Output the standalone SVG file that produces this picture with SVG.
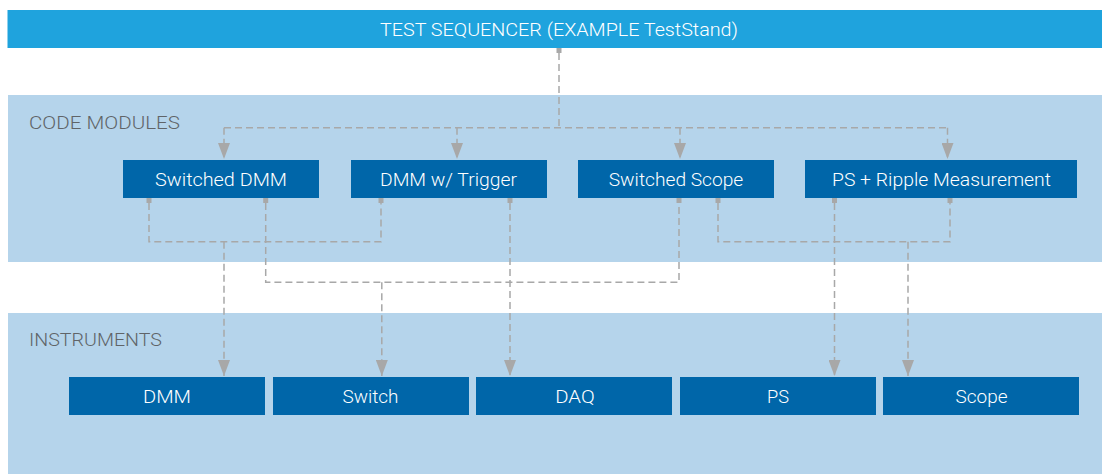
<svg xmlns="http://www.w3.org/2000/svg" width="1102" height="474" viewBox="0 0 1102 474">
<defs>
<style>
.panel{fill:#b5d4eb}
.box{fill:#0066a9}
.lbl{font-family:Roboto,"Liberation Sans",Arial,sans-serif;font-weight:300;font-size:18px;fill:#ffffff;text-anchor:middle}
.sec{font-family:Roboto,"Liberation Sans",Arial,sans-serif;font-weight:300;font-size:18px;fill:#606468}
.dash{fill:none;stroke:#a8a8a8;stroke-width:1.5;stroke-dasharray:7 4}
.pt{fill:#a8a8a8}
</style>
<marker id="arr" viewBox="0 0 16 12" refX="16" refY="6" markerWidth="16" markerHeight="12" markerUnits="userSpaceOnUse" orient="auto">
<path d="M0,0 L16,6 L0,12 z" fill="#a8a8a8"/>
</marker>
</defs>
<rect width="1102" height="474" fill="#ffffff"/>
<g id="panels">
<rect class="panel" x="8" y="95" width="1094" height="167"/>
<rect class="panel" x="8" y="313" width="1094" height="161"/>
<text class="sec" x="29" y="129" textLength="151" lengthAdjust="spacingAndGlyphs">CODE MODULES</text>
<text class="sec" x="29" y="346" textLength="133" lengthAdjust="spacingAndGlyphs">INSTRUMENTS</text>
</g>
<g id="sequencer">
<rect x="7.5" y="10" width="1094.5" height="38" fill="#1fa3dd"/>
<text class="lbl" x="559" y="36" textLength="358" lengthAdjust="spacingAndGlyphs">TEST SEQUENCER (EXAMPLE TestStand)</text>
</g>
<g id="mod-switched-dmm">
<rect class="box" x="123" y="160" width="196" height="38"/>
<text class="lbl" x="221" y="186" textLength="132" lengthAdjust="spacingAndGlyphs">Switched DMM</text>
</g>
<g id="mod-dmm-trigger">
<rect class="box" x="351" y="160" width="196" height="38"/>
<text class="lbl" x="448.5" y="186" textLength="137" lengthAdjust="spacingAndGlyphs">DMM w/ Trigger</text>
</g>
<g id="mod-switched-scope">
<rect class="box" x="578" y="160" width="196" height="38"/>
<text class="lbl" x="676" y="186" textLength="134.5" lengthAdjust="spacingAndGlyphs">Switched Scope</text>
</g>
<g id="mod-ps-ripple">
<rect class="box" x="805" y="160" width="272" height="38"/>
<text class="lbl" x="941.5" y="186" textLength="219" lengthAdjust="spacingAndGlyphs">PS + Ripple Measurement</text>
</g>
<g id="inst-dmm">
<rect class="box" x="69" y="377" width="196" height="38"/>
<text class="lbl" x="167" y="403" textLength="48" lengthAdjust="spacingAndGlyphs">DMM</text>
</g>
<g id="inst-switch">
<rect class="box" x="273" y="377" width="196" height="38"/>
<text class="lbl" x="370.5" y="403" textLength="56" lengthAdjust="spacingAndGlyphs">Switch</text>
</g>
<g id="inst-daq">
<rect class="box" x="476" y="377" width="196" height="38"/>
<text class="lbl" x="575" y="403" textLength="39.5" lengthAdjust="spacingAndGlyphs">DAQ</text>
</g>
<g id="inst-ps">
<rect class="box" x="680" y="377" width="196" height="38"/>
<text class="lbl" x="778" y="403" textLength="22" lengthAdjust="spacingAndGlyphs">PS</text>
</g>
<g id="inst-scope">
<rect class="box" x="883" y="377" width="196" height="38"/>
<text class="lbl" x="981.5" y="403" textLength="52" lengthAdjust="spacingAndGlyphs">Scope</text>
</g>
<g id="connectors">
<rect class="pt" x="556.5" y="48" width="5" height="5"/>
<path class="dash" d="M559,53 V127.7 M224,127.7 H947.5"/>
<path class="dash" d="M224,127.7 V159" marker-end="url(#arr)"/>
<path class="dash" d="M457,127.7 V159" marker-end="url(#arr)"/>
<path class="dash" d="M680,127.7 V159" marker-end="url(#arr)"/>
<path class="dash" d="M947.5,127.7 V159" marker-end="url(#arr)"/>
<rect class="pt" x="146.5" y="198" width="5" height="5"/>
<rect class="pt" x="263.2" y="198" width="5" height="5"/>
<rect class="pt" x="378.5" y="198" width="5" height="5"/>
<rect class="pt" x="507.5" y="198" width="5" height="5"/>
<rect class="pt" x="676.5" y="198" width="5" height="5"/>
<rect class="pt" x="715.5" y="198" width="5" height="5"/>
<rect class="pt" x="832" y="198" width="5" height="5"/>
<rect class="pt" x="947.5" y="198" width="5" height="5"/>
<path class="dash" d="M149,203 V241.7 H381 V203"/>
<path class="dash" d="M224,241.7 V376" marker-end="url(#arr)"/>
<path class="dash" d="M265.7,203 V282.3 H679 V203"/>
<path class="dash" d="M381.8,282.3 V376" marker-end="url(#arr)"/>
<path class="dash" d="M510,203 V376" marker-end="url(#arr)"/>
<path class="dash" d="M718,203 V241.7 H950 V203"/>
<path class="dash" d="M908,241.7 V376" marker-end="url(#arr)"/>
<path class="dash" d="M834.5,203 V376" marker-end="url(#arr)"/>
</g>
</svg>
